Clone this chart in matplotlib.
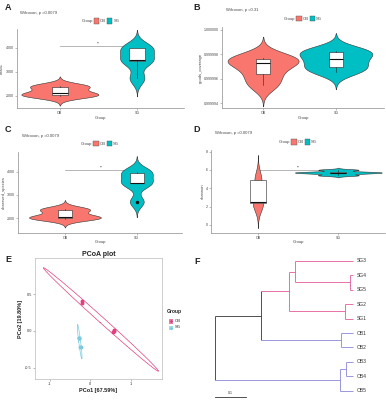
import numpy as np
import matplotlib
matplotlib.use("Agg")
import matplotlib.pyplot as plt
from matplotlib.patches import Rectangle
from matplotlib.offsetbox import HPacker, TextArea, DrawingArea, AnchoredOffsetbox

plt.rcParams['font.family'] = ['Liberation Sans', 'DejaVu Sans']

# ---------------- data ----------------
groups = ["OB", "SG"]
chao1_OB = [1990, 2040, 2130, 2385, 2420]
chao1_SG = [2730, 3460, 3470, 3970, 3990]
goods_OB = [0.9999955, 0.9999964, 0.9999973, 0.9999976, 0.9999977]
goods_SG = [0.9999966, 0.9999970, 0.9999976, 0.9999982, 0.9999983]
obs_OB = [1990, 2025, 2070, 2356, 2400]
obs_SG = [2712, 3500, 3520, 3957, 4000]
shannon_OB = [2.35, 2.40, 2.50, 4.90, 4.95]
shannon_SG = [5.42, 5.63, 5.72, 5.79, 6.02]
p_texts = ["Wilcoxon, p =0.0079", "Wilcoxon, p =0.31", "Wilcoxon, p =0.0079", "Wilcoxon, p =0.0079"]
sig_labels = ["**", None, "**", "**"]
sig_y = [4085, None, 4070, 6.0]
ylabels = ["chao1", "goods_coverage", "observed_species", "shannon"]
yticks_A = [2000, 3000, 4000]
yticks_B = [0.999994, 0.999996, 0.999998, 1.000000]
yticks_C = [2000, 3000, 4000]
yticks_D = [0, 2, 4, 6, 8]

pcoa_OB_x = [-0.203, -0.217, 0.586, 0.574, 0.580]
pcoa_OB_y = [0.403, 0.377, 0.012, -0.012, 0.000]
pcoa_SG_x = [-0.268, -0.282, -0.275, -0.238, -0.252]
pcoa_SG_y = [-0.094, -0.096, -0.095, -0.224, -0.226]
pcoa_xticks = [-1, 0, 1]
pcoa_yticks = [-0.5, 0.0, 0.5]
pc1_label = "PCo1 [67.59%]"
pc2_label = "PCo2 [19.80%]"

# tree: node name, parent, depth (distance from root)
tree_nodes = ["root", "n1", "n2", "n3", "n4", "n5", "n6", "n7", "n8",
              "SG3", "SG4", "SG5", "SG2", "SG1", "OB1", "OB2", "OB3", "OB4", "OB5"]
tree_parent = [None, "root", "n1", "n2", "n3", "n2", "n1", "root", "n7",
               "n3", "n4", "n4", "n5", "n5", "n6", "n6", "n8", "n8", "n7"]
tree_depth = [0.0, 0.147, 0.234, 0.253, 0.427, 0.411, 0.401, 0.396, 0.416,
              0.437, 0.437, 0.437, 0.437, 0.437, 0.437, 0.437, 0.437, 0.437, 0.437]
tree_clade = ["root", "root", "SG", "SG", "SG", "SG", "OB", "OB", "OB",
              "SG", "SG", "SG", "SG", "SG", "OB", "OB", "OB", "OB", "OB"]
leaf_order = ["SG3", "SG4", "SG5", "SG2", "SG1", "OB1", "OB2", "OB3", "OB4", "OB5"]
scale_len = 0.1

# ---------------- style ----------------
W, H = 386, 400
col_OB = "#F8766D"
col_SG = "#00BFC4"
pc_OB = "#E0407F"
pc_SG = "#7BCBE0"
tr_cols = {"root": "#333333", "SG": "#E55A9B", "OB": "#8A86D8"}
axis_gray = "#8C8C8C"

fig = plt.figure(figsize=(W / 100, H / 100), dpi=100)


def add_ax(l, t, r, b):
    return fig.add_axes([l / W, 1 - b / H, (r - l) / W, (b - t) / H])


def nrd0(v):
    v = np.asarray(v, float)
    sd = v.std(ddof=1)
    iqr = np.subtract(*np.percentile(v, [75, 25]))
    return 0.9 * min(sd, iqr / 1.34) * len(v) ** -0.2


def kde(v):
    v = np.asarray(v, float)
    bw = nrd0(v)
    g = np.linspace(v.min() - 3 * bw, v.max() + 3 * bw, 512)
    d = np.exp(-0.5 * ((g[:, None] - v[None, :]) / bw) ** 2).sum(1) / (len(v) * bw * np.sqrt(2 * np.pi))
    return g, d


def violin_panel(ax, data, ylab, yticks, ylim, xlim, fmt, ptxt, siglab, sy, width=1.0):
    dens = [kde(v) for v in data]
    dmax = max(d.max() for g, d in dens)
    for i, ((g, d), c) in enumerate(zip(dens, [col_OB, col_SG])):
        hw = 0.5 * width * d / dmax
        ax.fill_betweenx(g, i + 1 - hw, i + 1 + hw, facecolor=c, edgecolor="#333333", lw=0.4, zorder=2)
    if siglab:
        ax.plot([1, 2], [sy, sy], color="#999999", lw=0.5, zorder=1)
        ax.text(1.5, sy, siglab, ha="center", va="bottom", fontsize=2.5, color="#333333", zorder=1)
    ax.boxplot(data, positions=[1, 2], widths=0.2, whis=1.5, patch_artist=True,
               showcaps=False, manage_ticks=False,
               boxprops=dict(facecolor="white", edgecolor="#222222", lw=0.4),
               medianprops=dict(color="#111111", lw=0.8),
               whiskerprops=dict(color="#222222", lw=0.4),
               flierprops=dict(marker="o", markerfacecolor="#111111", markeredgecolor="#111111", markersize=1.5),
               zorder=3)
    ax.set_xlim(*xlim)
    ax.set_ylim(*ylim)
    ax.set_xticks([1, 2])
    ax.set_xticklabels(groups)
    ax.set_yticks(yticks)
    ax.set_yticklabels([fmt.format(t) for t in yticks])
    ax.tick_params(labelsize=2.6, length=1.2, width=0.4, color=axis_gray, pad=1, labelcolor="#444444")
    for s in ["top", "right"]:
        ax.spines[s].set_visible(False)
    for s in ["left", "bottom"]:
        ax.spines[s].set_color(axis_gray)
        ax.spines[s].set_linewidth(0.5)
    ax.set_xlabel("Group", fontsize=3.0, labelpad=0.5, color="#444444")
    ax.set_ylabel(ylab, fontsize=3.0, labelpad=1, color="#444444")
    ax.text(0.02, 1.20, ptxt, transform=ax.transAxes, fontsize=3.0, color="#444444", ha="left", va="center")
    # legend
    items = [TextArea("Group", textprops=dict(fontsize=3.0, color="#444444"))]
    for lab, c in zip(groups, [col_OB, col_SG]):
        da = DrawingArea(4.0, 4.0, 0, 0)
        da.add_artist(Rectangle((0, 0), 4.0, 4.0, facecolor=c, edgecolor="#555555", lw=0.3))
        items.append(da)
        items.append(TextArea(lab, textprops=dict(fontsize=3.0, color="#444444")))
    pk = HPacker(children=items, align="center", pad=0, sep=0.6)
    ab = AnchoredOffsetbox(loc="center", child=pk, bbox_to_anchor=(0.5, 1.10), bbox_transform=ax.transAxes,
                           frameon=False, pad=0, borderpad=0)
    ax.add_artist(ab)


axA = add_ax(16.7, 29, 184, 108.3)
violin_panel(axA, [chao1_OB, chao1_SG], ylabels[0], yticks_A, (1490, 4770), (0.44, 2.61),
             "{:d}", p_texts[0], sig_labels[0], sig_y[0])
axB = add_ax(222.3, 26.7, 384, 108.3)
violin_panel(axB, [goods_OB, goods_SG], ylabels[1], yticks_B, (0.99999359, 1.00000027), (0.44, 2.66),
             "{:.6f}", p_texts[1], sig_labels[1], sig_y[1])
axC = add_ax(18.3, 151.7, 182, 232.7)
violin_panel(axC, [obs_OB, obs_SG], ylabels[2], yticks_C, (1382, 4858), (0.35, 2.63),
             "{:d}", p_texts[2], sig_labels[2], sig_y[2])
axD = add_ax(211.3, 150, 385, 232.7)
violin_panel(axD, [shannon_OB, shannon_SG], ylabels[3], yticks_D, (-0.84, 8.18), (0.42, 2.58),
             "{:d}", p_texts[3], sig_labels[3], sig_y[3], width=1.08)

# ---------------- PCoA ----------------
axE = add_ax(35, 258.3, 161.7, 379.3)
r_use = 3.3
t = np.linspace(0, 2 * np.pi, 300)
for xs, ys, c, lab in [(pcoa_OB_x, pcoa_OB_y, pc_OB, "OB"), (pcoa_SG_x, pcoa_SG_y, pc_SG, "SG")]:
    P = np.column_stack([xs, ys])
    mu = P.mean(0)
    cov = np.cov(P.T)
    vals, vecs = np.linalg.eigh(cov)
    circ = np.column_stack([np.cos(t), np.sin(t)]) * np.sqrt(vals) * r_use
    ell = mu + circ @ vecs.T
    axE.plot(ell[:, 0], ell[:, 1], color=c, lw=0.5, zorder=2)
    axE.plot(xs, ys, "o", color=c, markersize=1.8, mec=c, zorder=3)
axE.set_xlim(-1.37, 1.77)
axE.set_ylim(-0.66, 0.99)
axE.set_xticks(pcoa_xticks)
axE.set_xticklabels([str(v) for v in pcoa_xticks])
axE.set_yticks(pcoa_yticks)
axE.set_yticklabels(["{:.1f}".format(v) for v in pcoa_yticks])
axE.tick_params(labelsize=2.8, length=1.2, width=0.4, color="#888888", pad=1, labelcolor="#333333")
for s in axE.spines.values():
    s.set_color("#BBBBBB")
    s.set_linewidth(0.5)
axE.set_xlabel(pc1_label, fontsize=4.0, fontweight="bold", labelpad=1.5, color="#222222")
axE.set_ylabel(pc2_label, fontsize=4.0, fontweight="bold", labelpad=1.5, color="#222222")
axE.set_title("PCoA plot", fontsize=5.0, fontweight="bold", pad=1.5, color="#222222")
# legend for E
fig.text(167 / W, 1 - 312 / H, "Group", fontsize=3.6, fontweight="bold", color="#222222", va="center")
for k, (lab, c) in enumerate(zip(groups, [pc_OB, pc_SG])):
    yk = 321 + 6.5 * k
    rax = fig.add_axes([168 / W, 1 - (yk + 2.5) / H, 5 / W, 5 / H])
    rax.set_xlim(0, 1); rax.set_ylim(0, 1); rax.axis("off")
    rax.add_patch(Rectangle((0.1, 0.1), 0.8, 0.8, facecolor="none", edgecolor=c, lw=0.5))
    rax.plot([0.5], [0.5], "o", color=c, markersize=1.3)
    fig.text(175 / W, 1 - yk / H, lab, fontsize=3.0, color="#222222", va="center")

# ---------------- tree ----------------
axF = add_ax(205, 250, 386, 400)
axF.axis("off")
axF.set_xlim(-0.0307, 0.542)
axF.set_ylim(9.63, -0.74)
depth = dict(zip(tree_nodes, tree_depth))
parent = dict(zip(tree_nodes, tree_parent))
clade = dict(zip(tree_nodes, tree_clade))
children = {n: [c for c in tree_nodes if parent[c] == n] for n in tree_nodes}
ypos = {}


def gety(n):
    if n in ypos:
        return ypos[n]
    if n in leaf_order:
        ypos[n] = leaf_order.index(n)
    else:
        ypos[n] = np.mean([gety(c) for c in children[n]])
    return ypos[n]


for n in tree_nodes:
    gety(n)
for n in tree_nodes:
    p = parent[n]
    if p is not None:
        axF.plot([depth[p], depth[n]], [ypos[n], ypos[n]], color=tr_cols[clade[n]], lw=0.6,
                 solid_capstyle="butt")
    ch = children[n]
    if ch:
        ys = [ypos[c] for c in ch]
        axF.plot([depth[n], depth[n]], [min(ys), max(ys)], color=tr_cols[clade[n]], lw=0.6,
                 solid_capstyle="butt")
for n in leaf_order:
    axF.text(depth[n] + 0.012, ypos[n], n, fontsize=3.6, color="#333333", va="center", ha="left")
axF.plot([0, scale_len], [9.4, 9.4], color="#333333", lw=0.6)
axF.text(scale_len / 2, 9.25, str(scale_len), fontsize=2.5, ha="center", va="bottom", color="#333333")

# panel letters
for lab, (x, y) in zip("ABCDEF", [(8, 8), (197, 8), (8, 129), (197, 129), (8, 259), (197, 262)]):
    fig.text(x / W, 1 - y / H, lab, fontsize=6.5, fontweight="bold", color="#222222", ha="center", va="center")

fig.savefig("out.png", dpi=100)
